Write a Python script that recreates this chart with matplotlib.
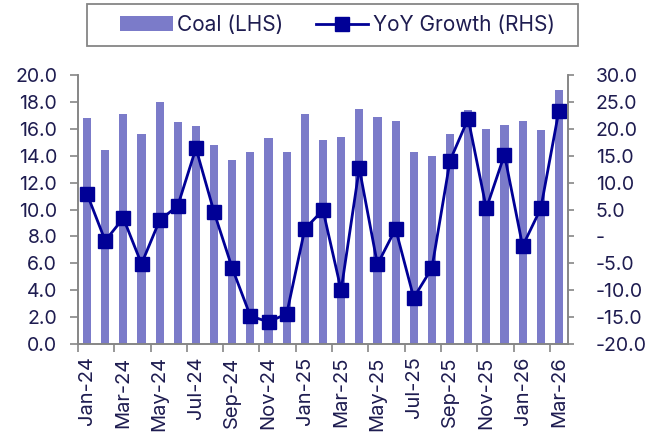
import numpy as np
import matplotlib
matplotlib.use("Agg")
import matplotlib.pyplot as plt
from matplotlib.patches import Rectangle

months = ["Jan-24", "Feb-24", "Mar-24", "Apr-24", "May-24", "Jun-24", "Jul-24",
          "Aug-24", "Sep-24", "Oct-24", "Nov-24", "Dec-24", "Jan-25", "Feb-25",
          "Mar-25", "Apr-25", "May-25", "Jun-25", "Jul-25", "Aug-25", "Sep-25",
          "Oct-25", "Nov-25", "Dec-25", "Jan-26", "Feb-26", "Mar-26"]
coal = [16.8, 14.4, 17.1, 15.6, 18.0, 16.5, 16.2, 14.8, 13.7, 14.3, 15.3, 14.3,
        17.1, 15.2, 15.4, 17.5, 16.9, 16.6, 14.3, 14.0, 15.6, 17.4, 16.0, 16.3,
        16.6, 15.9, 18.9]
yoy = [7.9, -0.8, 3.4, -5.1, 3.0, 5.7, 16.4, 4.5, -5.9, -14.8, -15.9, -14.4,
       1.4, 4.9, -10.0, 12.7, -5.2, 1.4, -11.4, -5.9, 14.1, 21.9, 5.2, 15.2,
       -1.8, 5.2, 23.4]
left_ticks = [0, 2, 4, 6, 8, 10, 12, 14, 16, 18, 20]
right_ticks = [-20, -15, -10, -5, 0, 5, 10, 15, 20, 25, 30]

bar_col = "#7b7bc9"
line_col = "#000096"
txt_col = "#1e1c50"
spine_col = "#868686"

plt.rcParams["font.family"] = ["Inter", "DejaVu Sans"]
plt.rcParams["font.size"] = 14

fig = plt.figure(figsize=(6.62, 4.34), dpi=100)
ax = fig.add_axes([0.1178, 0.2074, 0.7402, 0.6196])
ax2 = ax.twinx()

x = np.arange(len(months))
ax.bar(x, coal, width=0.45, color=bar_col, label="Coal (LHS)", zorder=1)
ax2.plot(x, yoy, color=line_col, lw=2, marker="s", ms=9.5, label="YoY Growth (RHS)")

ax.set_xlim(-0.5, len(months) - 0.5)
ax.set_ylim(0, 20)
ax2.set_ylim(-20, 30)
ax.set_yticks(left_ticks)
ax.set_yticklabels([f"{v:.1f}" for v in left_ticks])
ax2.set_yticks(right_ticks)
ax2.set_yticklabels(["-" if v == 0 else f"{v:.1f}" for v in right_ticks])

ax.set_xticks(x[::2])
ax.set_xticklabels(months[::2], rotation=90, fontsize=14.5)
ax.set_xticks(np.arange(-0.5, len(months), 2), minor=True)
ax.tick_params(axis="x", which="major", length=0, pad=9, colors=txt_col)
ax.tick_params(axis="x", which="minor", length=6, width=1.2, color=spine_col)
ax.tick_params(axis="y", length=6, width=1.2, color=spine_col, labelcolor=txt_col, pad=9)
ax2.tick_params(axis="y", length=4, width=1.2, color=spine_col, labelcolor=txt_col, pad=16)

for a in (ax, ax2):
    a.spines["top"].set_visible(False)
    for s in ("left", "right", "bottom"):
        a.spines[s].set_color(spine_col)
        a.spines[s].set_linewidth(1.2)

# legend box drawn by hand so its width matches
fig.patches.append(Rectangle((87 / 662, 1 - 46 / 434), 491 / 662, 42 / 434,
                             transform=fig.transFigure, fill=False,
                             edgecolor=spine_col, lw=1.3))
h1, l1 = ax.get_legend_handles_labels()
h2, l2 = ax2.get_legend_handles_labels()
fig.legend(h1 + h2, l1 + l2, loc="center", bbox_to_anchor=(337.5 / 662, 1 - 25 / 434),
           ncol=2, frameon=False, handlelength=2.5, handletextpad=0.2,
           columnspacing=1.6, labelcolor=txt_col, fontsize=15,
           borderpad=0, borderaxespad=0)

fig.savefig("out.png", dpi=100)
